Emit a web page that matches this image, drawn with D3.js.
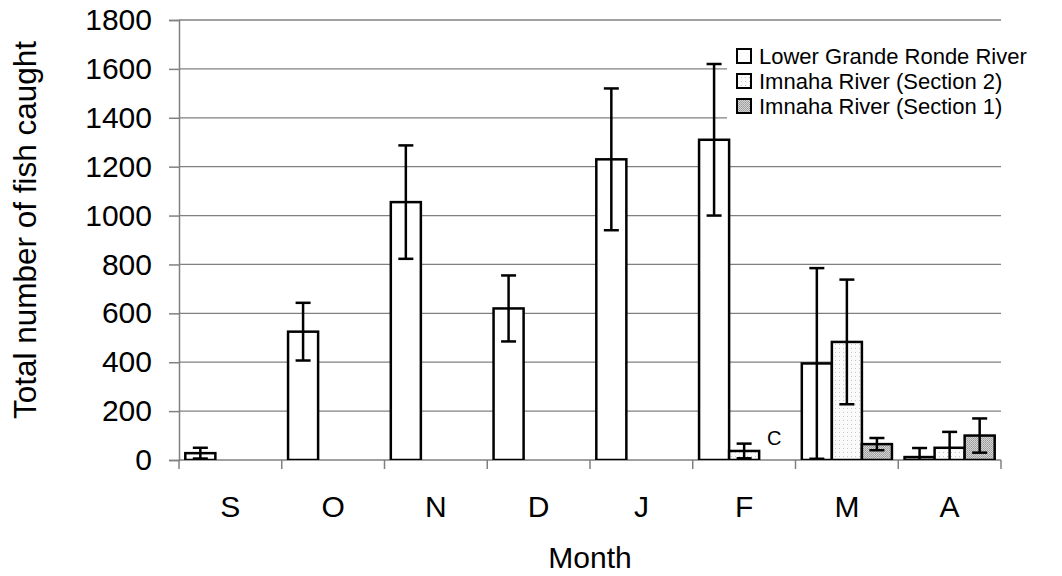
<!DOCTYPE html>
<html>
<head>
<meta charset="utf-8">
<script src="https://cdn.jsdelivr.net/npm/d3@7"></script>
<style>
  body { margin: 0; background: #fff; }
  svg { font-family: "Liberation Sans", Arial, sans-serif; }
</style>
</head>
<body>
<svg width="1062" height="576"></svg>
<script>
// chart data
var months = ["S", "O", "N", "D", "J", "F", "M", "A"];
var seriesNames = ["Lower Grande Ronde River", "Imnaha River (Section 2)", "Imnaha River (Section 1)"];
var lowerGR    = [28, 525, 1055, 620, 1230, 1310, 395, 12];
var lowerGRErr = [22, 118, 232, 135, 290, 310, 390, 37];
var imnaha2    = [null, null, null, null, null, 37, 483, 50];
var imnaha2Err = [null, null, null, null, null, 30, 255, 65];
var imnaha1    = [null, null, null, null, null, null, 65, 100];
var imnaha1Err = [null, null, null, null, null, null, 25, 70];
var yTicks = [0, 200, 400, 600, 800, 1000, 1200, 1400, 1600, 1800];

var values = [lowerGR, imnaha2, imnaha1];
var errors = [lowerGRErr, imnaha2Err, imnaha1Err];

//plot area
var margin = {top: 20, right: 61, bottom: 116, left: 179},
    width = 1062 - margin.left - margin.right,
    height = 576 - margin.top - margin.bottom;

var svg = d3.select("svg");

//fill patterns for the two Imnaha series
var defs = svg.append("defs");
var dots = defs.append("pattern")
    .attr("id", "dots").attr("width", 4).attr("height", 4)
    .attr("patternUnits", "userSpaceOnUse");
dots.append("rect").attr("width", 4).attr("height", 4).attr("fill", "#fafafa");
dots.append("rect").attr("width", 1).attr("height", 1).attr("fill", "#c8c8c8");

var dither = defs.append("pattern")
    .attr("id", "dither").attr("width", 2).attr("height", 2)
    .attr("patternUnits", "userSpaceOnUse");
dither.append("rect").attr("width", 2).attr("height", 2).attr("fill", "#d4d4d4");
dither.append("rect").attr("width", 1).attr("height", 1).attr("fill", "#9a9a9a");
dither.append("rect").attr("x", 1).attr("y", 1).attr("width", 1).attr("height", 1).attr("fill", "#a8a8a8");

var fills = ["#ffffff", "url(#dots)", "url(#dither)"];

defs.append("clipPath").attr("id", "plotclip")
    .append("rect").attr("x", 0).attr("y", -20).attr("width", width).attr("height", height + 20);

var g = svg.append("g")
    .attr("transform", "translate(" + margin.left + "," + margin.top + ")");

var x0 = d3.scaleBand().domain(months).range([0, width]).padding(0);
var x1 = d3.scaleBand().domain(d3.range(3)).range([0, x0.bandwidth()]).paddingInner(0).paddingOuter(0.21);
var y = d3.scaleLinear().domain([0, 1800]).range([height, 0]);

//gridlines
g.append("g")
    .selectAll("line")
    .data(yTicks.slice(1))
    .enter().append("line")
    .attr("x1", 0).attr("x2", width)
    .attr("y1", function (d) { return y(d); })
    .attr("y2", function (d) { return y(d); })
    .attr("stroke", "#808080").attr("stroke-width", 1.3);

//y axis
var yAxis = g.append("g")
    .call(d3.axisLeft(y).tickValues(yTicks).tickFormat(d3.format("d")).tickSize(10).tickPadding(17));
yAxis.select(".domain").attr("stroke", "#808080").attr("stroke-width", 1.5);
yAxis.selectAll(".tick line").attr("stroke", "#808080").attr("stroke-width", 1.5);
yAxis.selectAll("text").attr("font-size", 30).attr("fill", "#000")
    .attr("font-family", "Liberation Sans, Arial, sans-serif");

//x axis: ticks sit on the category edges
var xAxis = g.append("g").attr("transform", "translate(0," + height + ")");
xAxis.append("line").attr("x1", 0).attr("x2", width)
    .attr("stroke", "#808080").attr("stroke-width", 1.5);
xAxis.selectAll(".edge")
    .data(months.concat(["end"]))
    .enter().append("line")
    .attr("x1", function (d, i) { return i * x0.step(); })
    .attr("x2", function (d, i) { return i * x0.step(); })
    .attr("y1", 0).attr("y2", 9)
    .attr("stroke", "#808080").attr("stroke-width", 1.5);
xAxis.selectAll(".mlabel")
    .data(months)
    .enter().append("text")
    .attr("x", function (d) { return x0(d) + x0.bandwidth() / 2; })
    .attr("y", 57)
    .attr("text-anchor", "middle")
    .attr("font-size", 30)
    .text(function (d) { return d; });

//bars
var barData = [];
values.forEach(function (arr, s) {
    arr.forEach(function (v, i) {
        if (v != null) barData.push({s: s, m: months[i], v: v, e: errors[s][i]});
    });
});

var bars = g.append("g").attr("clip-path", "url(#plotclip)");
bars.selectAll("rect")
    .data(barData)
    .enter().append("rect")
    .attr("x", function (d) { return x0(d.m) + x1(d.s); })
    .attr("y", function (d) { return y(d.v); })
    .attr("width", x1.bandwidth())
    .attr("height", function (d) { return height - y(d.v); })
    .attr("fill", function (d) { return fills[d.s]; })
    .attr("stroke", "#000").attr("stroke-width", 2.5);

//error bars
var eb = bars.selectAll(".err")
    .data(barData)
    .enter().append("g")
    .attr("transform", function (d) {
        return "translate(" + (x0(d.m) + x1(d.s) + x1.bandwidth() / 2) + ",0)";
    });
eb.append("line")
    .attr("y1", function (d) { return y(d.v + d.e); })
    .attr("y2", function (d) { return y(d.v - d.e); })
    .attr("stroke", "#000").attr("stroke-width", 2.5);
eb.append("line")
    .attr("x1", -7.5).attr("x2", 7.5)
    .attr("y1", function (d) { return y(d.v + d.e); })
    .attr("y2", function (d) { return y(d.v + d.e); })
    .attr("stroke", "#000").attr("stroke-width", 2.5);
eb.append("line")
    .attr("x1", -7.5).attr("x2", 7.5)
    .attr("y1", function (d) { return y(d.v - d.e); })
    .attr("y2", function (d) { return y(d.v - d.e); })
    .attr("stroke", "#000").attr("stroke-width", 2.5);

//"C" note in February
g.append("text")
    .attr("x", x0("F") + x1(2) + x1.bandwidth() / 2)
    .attr("y", y(0) - 15)
    .attr("text-anchor", "middle")
    .attr("font-size", 20)
    .text("C");

//legend
var legend = svg.append("g").attr("transform", "translate(727,40)");
legend.append("rect").attr("width", 320).attr("height", 80).attr("fill", "#fff");
var items = legend.selectAll(".item")
    .data(seriesNames)
    .enter().append("g")
    .attr("transform", function (d, i) { return "translate(10," + (16 + i * 25) + ")"; });
items.append("rect")
    .attr("x", 0).attr("y", -7).attr("width", 14).attr("height", 14)
    .attr("fill", function (d, i) { return fills[i]; })
    .attr("stroke", "#000").attr("stroke-width", 2);
items.append("text")
    .attr("x", 22).attr("y", 8)
    .attr("font-size", 22)
    .text(function (d) { return d; });

//axis titles
svg.append("text")
    .attr("x", margin.left + width / 2).attr("y", 568)
    .attr("text-anchor", "middle")
    .attr("font-size", 30)
    .text("Month");
svg.append("text")
    .attr("transform", "translate(36,230) rotate(-90)")
    .attr("text-anchor", "middle")
    .attr("font-size", 31.5)
    .text("Total number of fish caught");
</script>
</body>
</html>
